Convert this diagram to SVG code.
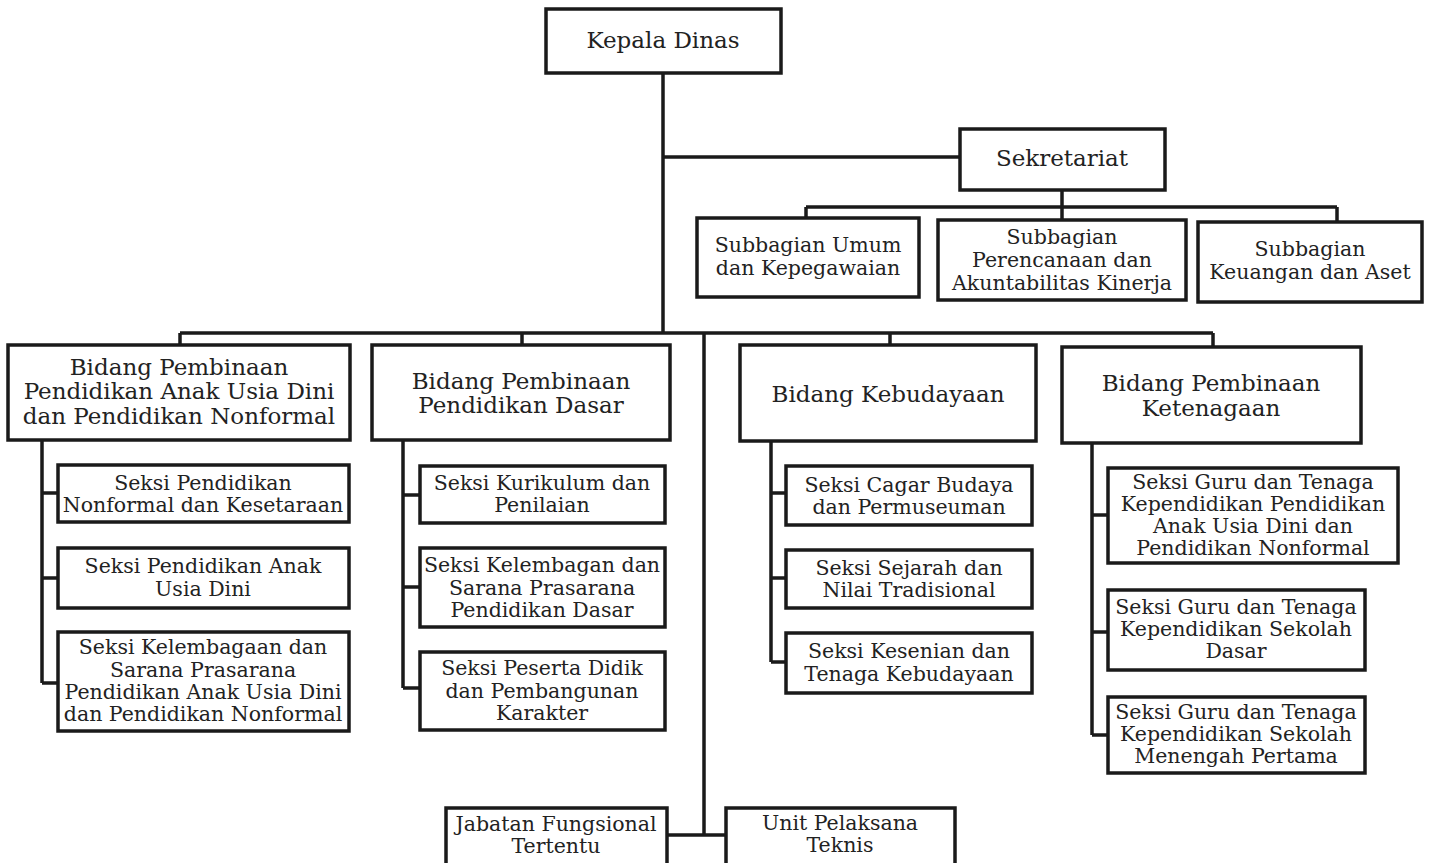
<svg xmlns="http://www.w3.org/2000/svg" width="1430" height="863" viewBox="0 0 1430 863">
<style>
.b{fill:#fff;stroke:#1a1a1a;stroke-width:3.5}
.c{fill:none;stroke:#1a1a1a;stroke-width:3.5}
text{font-family:"DejaVu Serif","Liberation Serif",serif;fill:#222;text-anchor:middle;font-size:20.5px}
.l{font-size:23px}
</style>
<rect width="1430" height="863" fill="#fff"/>
<g id="connectors">
<path class="c" d="M663 73V333M663 157H960M1062 190V207M806 207H1337M806 207V218M1062 207V220M1337 207V222"/>
<path class="c" d="M180 333H1213M180 333V345M522 333V345M890 333V345M1213 333V347M704 333V835M667 835H726"/>
<path class="c" d="M42 440V683M42 493H58M42 578H58M42 683H58"/>
<path class="c" d="M403 440V688M403 495H420M403 587H420M403 688H420"/>
<path class="c" d="M771 441V662M771 493H786M771 578H786M771 662H786"/>
<path class="c" d="M1092 443V735M1092 515H1108M1092 632H1108M1092 735H1108"/>
</g>
<g id="kepala"><rect class="b" x="546" y="9" width="235" height="64"/><text class="l" x="663" y="48">Kepala Dinas</text></g>
<g id="sekretariat"><rect class="b" x="960" y="129" width="205" height="61"/><text class="l" x="1062" y="166">Sekretariat</text></g>
<g id="sub-umum"><rect class="b" x="697" y="218" width="222" height="79"/><text x="808" y="252">Subbagian Umum</text><text x="808" y="275">dan Kepegawaian</text></g>
<g id="sub-perencanaan"><rect class="b" x="938" y="220" width="248" height="80"/><text x="1062" y="244">Subbagian</text><text x="1062" y="267">Perencanaan dan</text><text x="1062" y="290">Akuntabilitas Kinerja</text></g>
<g id="sub-keuangan"><rect class="b" x="1198" y="222" width="224" height="80"/><text x="1310" y="256">Subbagian</text><text x="1310" y="279">Keuangan dan Aset</text></g>
<g id="bidang-paud"><rect class="b" x="8" y="345" width="342" height="95"/><text class="l" x="179" y="375">Bidang Pembinaan</text><text class="l" x="179" y="399">Pendidikan Anak Usia Dini</text><text class="l" x="179" y="424">dan Pendidikan Nonformal</text></g>
<g id="bidang-dasar"><rect class="b" x="372" y="345" width="298" height="95"/><text class="l" x="521" y="389">Bidang Pembinaan</text><text class="l" x="521" y="413">Pendidikan Dasar</text></g>
<g id="bidang-kebudayaan"><rect class="b" x="740" y="345" width="296" height="96"/><text class="l" x="888" y="402">Bidang Kebudayaan</text></g>
<g id="bidang-ketenagaan"><rect class="b" x="1062" y="347" width="299" height="96"/><text class="l" x="1211" y="391">Bidang Pembinaan</text><text class="l" x="1211" y="416">Ketenagaan</text></g>
<g id="paud-1"><rect class="b" x="58" y="465" width="291" height="57"/><text x="203" y="490">Seksi Pendidikan</text><text x="203" y="512">Nonformal dan Kesetaraan</text></g>
<g id="paud-2"><rect class="b" x="58" y="548" width="291" height="60"/><text x="203" y="573">Seksi Pendidikan Anak</text><text x="203" y="596">Usia Dini</text></g>
<g id="paud-3"><rect class="b" x="58" y="632" width="291" height="99"/><text x="203" y="654">Seksi Kelembagaan dan</text><text x="203" y="677">Sarana Prasarana</text><text x="203" y="699">Pendidikan Anak Usia Dini</text><text x="203" y="721">dan Pendidikan Nonformal</text></g>
<g id="dasar-1"><rect class="b" x="420" y="466" width="245" height="57"/><text x="542" y="490">Seksi Kurikulum dan</text><text x="542" y="512">Penilaian</text></g>
<g id="dasar-2"><rect class="b" x="420" y="548" width="245" height="79"/><text x="542" y="572">Seksi Kelembagan dan</text><text x="542" y="595">Sarana Prasarana</text><text x="542" y="617">Pendidikan Dasar</text></g>
<g id="dasar-3"><rect class="b" x="420" y="652" width="245" height="78"/><text x="542" y="675">Seksi Peserta Didik</text><text x="542" y="698">dan Pembangunan</text><text x="542" y="720">Karakter</text></g>
<g id="kebud-1"><rect class="b" x="786" y="466" width="246" height="59"/><text x="909" y="492">Seksi Cagar Budaya</text><text x="909" y="514">dan Permuseuman</text></g>
<g id="kebud-2"><rect class="b" x="786" y="550" width="246" height="58"/><text x="909" y="575">Seksi Sejarah dan</text><text x="909" y="597">Nilai Tradisional</text></g>
<g id="kebud-3"><rect class="b" x="786" y="633" width="246" height="60"/><text x="909" y="658">Seksi Kesenian dan</text><text x="909" y="681">Tenaga Kebudayaan</text></g>
<g id="keten-1"><rect class="b" x="1108" y="468" width="290" height="95"/><text x="1253" y="489">Seksi Guru dan Tenaga</text><text x="1253" y="511">Kependidikan Pendidikan</text><text x="1253" y="533">Anak Usia Dini dan</text><text x="1253" y="555">Pendidikan Nonformal</text></g>
<g id="keten-2"><rect class="b" x="1108" y="590" width="257" height="80"/><text x="1236" y="614">Seksi Guru dan Tenaga</text><text x="1236" y="636">Kependidikan Sekolah</text><text x="1236" y="658">Dasar</text></g>
<g id="keten-3"><rect class="b" x="1108" y="697" width="257" height="76"/><text x="1236" y="719">Seksi Guru dan Tenaga</text><text x="1236" y="741">Kependidikan Sekolah</text><text x="1236" y="763">Menengah Pertama</text></g>
<g id="jabatan"><rect class="b" x="446" y="808" width="221" height="60"/><text x="556" y="831">Jabatan Fungsional</text><text x="556" y="853">Tertentu</text></g>
<g id="upt"><rect class="b" x="726" y="808" width="229" height="60"/><text x="840" y="830">Unit Pelaksana</text><text x="840" y="852">Teknis</text></g>
</svg>
